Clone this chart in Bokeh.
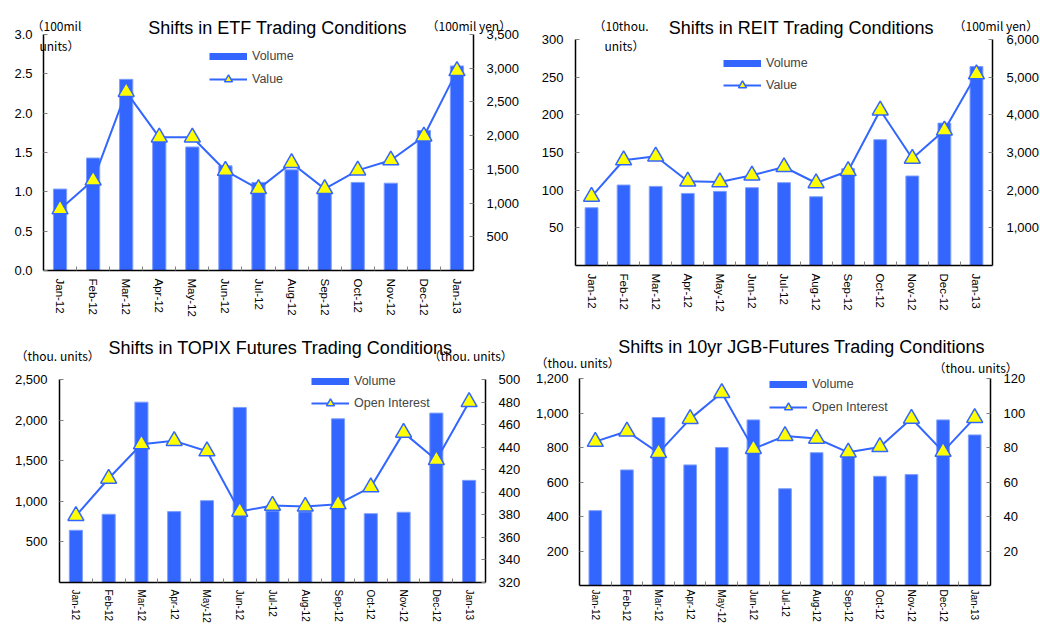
from bokeh.plotting import figure
from bokeh.models import (Range1d, LinearAxis, FixedTicker, NumeralTickFormatter,
                          Label, Legend, LegendItem)
from bokeh.layouts import column, row
from bokeh.embed import file_html
from bokeh.resources import INLINE

# ---------------- data ----------------
months = ["Jan-12", "Feb-12", "Mar-12", "Apr-12", "May-12", "Jun-12", "Jul-12",
          "Aug-12", "Sep-12", "Oct-12", "Nov-12", "Dec-12", "Jan-13"]

etf_volume = [1.035, 1.43, 2.43, 1.65, 1.57, 1.33, 1.12, 1.28, 1.00, 1.12, 1.11, 1.78, 2.60]
etf_value = [910, 1337, 2650, 1975, 1975, 1480, 1210, 1595, 1210, 1485, 1635, 1990, 2960]

reit_volume = [76.7, 106.8, 105.0, 95.7, 98.4, 103.3, 110.0, 91.3, 128.5, 167.0, 118.8, 189.0, 264.0]
reit_value = [1830, 2795, 2900, 2235, 2215, 2395, 2615, 2190, 2510, 4120, 2840, 3590, 5080]

topix_volume = [643, 840, 2221, 873, 1008, 2156, 880, 870, 2016, 848, 865, 2086, 1258]
topix_oi = [379.1, 412.2, 442.6, 445.6, 436.4, 382.9, 388.2, 387.4, 389.4, 404.5, 452.9, 428.7, 480.1]

jgb_volume = [434, 670, 974, 699, 800, 960, 561, 770, 750, 633, 643, 960, 873]
jgb_oi = [83.4, 89.4, 76.9, 96.6, 111.7, 79.2, 86.7, 85.2, 77.2, 80.3, 96.8, 77.6, 97.2]

etf_left_ticks = [0.0, 0.5, 1.0, 1.5, 2.0, 2.5, 3.0]
etf_right_ticks = [500, 1000, 1500, 2000, 2500, 3000, 3500]
reit_left_ticks = [50, 100, 150, 200, 250, 300]
reit_right_ticks = [1000, 2000, 3000, 4000, 5000, 6000]
topix_left_ticks = [500, 1000, 1500, 2000, 2500]
topix_right_ticks = [320, 340, 360, 380, 400, 420, 440, 460, 480, 500]
jgb_left_ticks = [200, 400, 600, 800, 1000, 1200]
jgb_right_ticks = [20, 40, 60, 80, 100, 120]

# ---------------- style ----------------
BLUE = "#3366FF"
YELLOW = "#FFFF00"
TICKC = "#808080"
FONT = "Liberation Sans"
CJK = "Noto Sans CJK JP"
TOP_H = 326
W = 520


def span(lo, hi, a, b, total):
    """Range whose [lo, hi] lands on pixels [a, b] of a frame 'total' px long."""
    k = (hi - lo) / (b - a)
    return Range1d(lo - a * k, hi + (total - b) * k)


def style_axis(ax, size, standoff):
    ax.major_label_text_font = FONT
    ax.major_label_text_font_size = size
    ax.major_label_text_color = "black"
    ax.major_label_standoff = standoff
    ax.axis_line_color = "black"
    ax.axis_line_width = 1.5


def panel(h, box, left_lim, right_lim, left_ticks, right_ticks, left_fmt, right_fmt,
          vol, line_vals, line_name, xfont, xstandoff, lstand, rstand,
          legend_box, legend_spacing, title, title_xy, units):
    L, R, T, B = box          # data-area edges, canvas pixels from top-left
    n = len(months)
    x0, x1 = -0.5, n - 0.5
    p = figure(width=W, height=h, output_backend="svg", toolbar_location=None,
               x_range=span(x0, x1, L, R, W),
               y_range=span(left_lim[0], left_lim[1], h - B, h - T, h),
               x_axis_type=None, y_axis_type=None, min_border=0)
    p.extra_y_ranges = {"r": span(right_lim[0], right_lim[1], h - B, h - T, h)}
    p.xgrid.visible = False
    p.ygrid.visible = False
    p.outline_line_color = None
    p.background_fill_color = "white"
    p.border_fill_color = "white"

    idx = list(range(n))
    p.vbar(x=idx, top=vol, width=0.4, fill_color=BLUE, line_color="#7f9fff", line_width=1)
    ln = p.line(x=idx, y=line_vals, y_range_name="r", line_color=BLUE, line_width=2)
    sc = p.scatter(x=idx, y=line_vals, y_range_name="r", marker="triangle", size=16,
                   fill_color=YELLOW, line_color=BLUE, line_width=1.5)
    swatch = p.line(x=idx, y=vol, line_color=BLUE, line_width=7, visible=False)

    # bottom axis
    xa = LinearAxis(fixed_location=left_lim[0], bounds=(x0, x1),
                    ticker=FixedTicker(ticks=idx, minor_ticks=[i + 0.5 for i in idx[:-1]]))
    xa.major_label_overrides = {i: m for i, m in enumerate(months)}
    xa.major_label_orientation = "vertical"
    xa.major_tick_line_color = None
    xa.major_tick_in = 0
    xa.major_tick_out = 0
    xa.minor_tick_line_color = TICKC
    xa.minor_tick_in = 4
    xa.minor_tick_out = 0
    style_axis(xa, xfont, xstandoff)
    p.add_layout(xa, "below")

    # left / right axes
    ya = LinearAxis(fixed_location=x0, bounds=tuple(left_lim),
                    ticker=FixedTicker(ticks=left_ticks),
                    formatter=NumeralTickFormatter(format=left_fmt))
    ra = LinearAxis(y_range_name="r", fixed_location=x1, bounds=tuple(right_lim),
                    ticker=FixedTicker(ticks=right_ticks),
                    formatter=NumeralTickFormatter(format=right_fmt))
    for ax, st in ((ya, lstand), (ra, rstand)):
        ax.major_tick_in = 4
        ax.major_tick_out = 0
        ax.major_tick_line_color = TICKC
        ax.minor_tick_line_color = None
        style_axis(ax, "13px", st)
    p.add_layout(ya, "left")
    p.add_layout(ra, "right")

    lx, ltop = legend_box
    legend = Legend(items=[LegendItem(label="Volume", renderers=[swatch]),
                           LegendItem(label=line_name, renderers=[ln, sc])],
                    location=(lx, h - (ltop + 40 + legend_spacing)),
                    glyph_width=38, glyph_height=20, label_height=20,
                    spacing=legend_spacing, padding=0, margin=0, label_standoff=5,
                    border_line_color=None, background_fill_alpha=0,
                    label_text_font=FONT, label_text_font_size="12.5px")
    p.add_layout(legend)

    p.add_layout(Label(x=title_xy[0], y=h - title_xy[1], x_units="screen", y_units="screen",
                       text=title, text_font=FONT, text_font_size="18px",
                       text_align="center", text_baseline="middle", text_color="black"))
    for (tx, ty, txt) in units:
        p.add_layout(Label(x=tx, y=h - ty, x_units="screen", y_units="screen", text=txt,
                           text_font=CJK, text_font_size="12px", text_align="left",
                           text_baseline="middle", text_color="black"))
    return p


BOT_H = 626 - TOP_H

p1 = panel(TOP_H, (43, 473, 34, 270), (0, 3.0), (0, 3500), etf_left_ticks, etf_right_ticks,
           "0.0", "0,0", etf_volume, etf_value, "Value", "11.5px", 8, 11, 13,
           (209, 46), 3, "Shifts in ETF Trading Conditions", (277, 27),
           [(31, 25, "（100mil"), (39, 45, "units）"), (426, 25, "（100mil yen）")])

p2 = panel(TOP_H, (55, 472, 39, 265), (0, 300), (0, 6000), reit_left_ticks, reit_right_ticks,
           "0", "0,0", reit_volume, reit_value, "Value", "11.5px", 8, 12, 14,
           (203, 53), 2, "Shifts in REIT Trading Conditions", (281, 27),
           [(73, 25, "（10thou."), (84, 45, "units）"), (433, 25, "（100mil yen）")])

p3 = panel(BOT_H, (59, 485, 379 - TOP_H, 582 - TOP_H), (0, 2500), (320, 500),
           topix_left_ticks, topix_right_ticks, "0,0", "0", topix_volume, topix_oi,
           "Open Interest", "10px", 7, 12, 13,
           (311, 371 - TOP_H), 2, "Shifts in TOPIX Futures Trading Conditions",
           (280, 347 - TOP_H),
           [(15, 355 - TOP_H, "（thou. units）"), (428, 355 - TOP_H, "（thou. units）")])

p4 = panel(BOT_H, (59, 470, 378 - TOP_H, 585 - TOP_H), (0, 1200), (0, 120),
           jgb_left_ticks, jgb_right_ticks, "0,0", "0", jgb_volume, jgb_oi,
           "Open Interest", "10px", 4, 11, 13,
           (249, 374 - TOP_H), 3, "Shifts in 10yr JGB-Futures Trading Conditions",
           (281, 346 - TOP_H),
           [(15, 362 - TOP_H, "（thou. units）"), (413, 367 - TOP_H, "（thou. units）")])

layout = column(row(p1, p2), row(p3, p4))
open("out.html", "w").write(file_html(layout, INLINE))
